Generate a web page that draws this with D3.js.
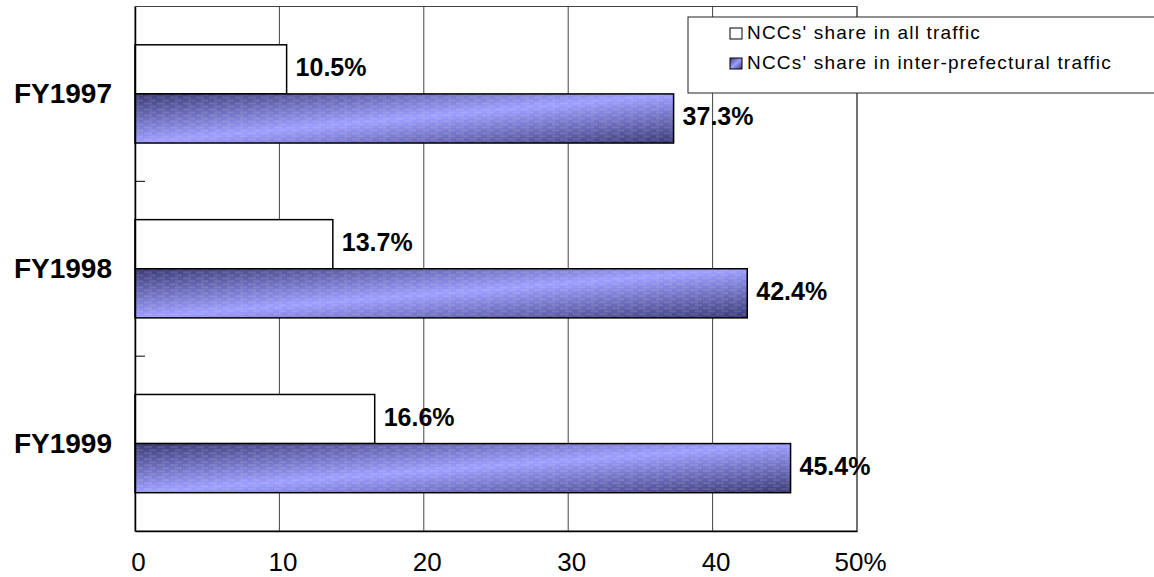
<!DOCTYPE html>
<html>
<head>
<meta charset="utf-8">
<script src="https://cdn.jsdelivr.net/npm/d3@7"></script>
<style>
  body { margin: 0; background: #fff; }
  svg { display: block; font-family: "Liberation Sans", Arial, sans-serif; }
</style>
</head>
<body>
<div id="chart"></div>
<script>
// chart values
const categories = ['FY1997', 'FY1998', 'FY1999'];
const seriesNames = ["NCCs' share in all traffic", "NCCs' share in inter-prefectural traffic"];
const allTraffic = [10.5, 13.7, 16.6];
const interPrefectural = [37.3, 42.4, 45.4];
const xTicks = [0, 10, 20, 30, 40, 50];
const xTickLabels = ['0', '10', '20', '30', '40', '50%'];

const width = 1154, height = 577;
const margin = { top: 6.5, right: 297, bottom: 46, left: 135 };

const svg = d3.select('#chart').append('svg')
  .attr('width', width)
  .attr('height', height);

// gradient + stripe pattern for the blue bars
const defs = svg.append('defs');
const grad = defs.append('linearGradient')
  .attr('id', 'blueGrad')
  .attr('x1', 0).attr('y1', 0).attr('x2', 1).attr('y2', 1);
grad.append('stop').attr('offset', '0%').attr('stop-color', '#3a3a76');
grad.append('stop').attr('offset', '50%').attr('stop-color', '#9e9eff');
grad.append('stop').attr('offset', '100%').attr('stop-color', '#3a3a76');

const pat = defs.append('pattern')
  .attr('id', 'stripes')
  .attr('patternUnits', 'userSpaceOnUse')
  .attr('width', 13).attr('height', 6);
pat.append('line').attr('x1', 1).attr('x2', 9).attr('y1', 1).attr('y2', 1)
  .attr('stroke', '#fff').attr('stroke-opacity', 0.22).attr('stroke-width', 1);
pat.append('line').attr('x1', 6).attr('x2', 14).attr('y1', 4).attr('y2', 4)
  .attr('stroke', '#fff').attr('stroke-opacity', 0.22).attr('stroke-width', 1);

const x = d3.scaleLinear()
  .domain([0, 50])
  .range([margin.left, width - margin.right]);

const y0 = d3.scaleBand()
  .domain(categories)
  .range([margin.top, height - margin.bottom])
  .paddingInner(0).paddingOuter(0);

const y1 = d3.scaleBand()
  .domain(seriesNames)
  .range([0, y0.bandwidth()])
  .paddingInner(0).paddingOuter(0.78);

const plotTop = margin.top, plotBottom = height - margin.bottom;

// plot frame
svg.append('rect')
  .attr('x', x(0)).attr('y', plotTop)
  .attr('width', x(50) - x(0)).attr('height', plotBottom - plotTop)
  .attr('fill', '#fff').attr('stroke', '#444').attr('stroke-width', 1);

// vertical gridlines
svg.append('g')
  .selectAll('line')
  .data(xTicks.slice(1))
  .join('line')
  .attr('x1', d => x(d)).attr('x2', d => x(d))
  .attr('y1', plotTop).attr('y2', plotBottom)
  .attr('stroke', '#444').attr('stroke-width', 1);

const rows = categories.map((c, i) => ({ cat: c, values: [allTraffic[i], interPrefectural[i]] }));

const groups = svg.append('g')
  .selectAll('g')
  .data(rows)
  .join('g')
  .attr('transform', d => `translate(0,${y0(d.cat)})`);

// white bars
groups.append('rect')
  .attr('x', x(0))
  .attr('y', y1(seriesNames[0]))
  .attr('width', d => x(d.values[0]) - x(0))
  .attr('height', y1.bandwidth())
  .attr('fill', '#fff')
  .attr('stroke', '#000').attr('stroke-width', 1.5);

// blue bars
groups.append('rect')
  .attr('x', x(0))
  .attr('y', y1(seriesNames[1]))
  .attr('width', d => x(d.values[1]) - x(0))
  .attr('height', y1.bandwidth())
  .attr('fill', 'url(#blueGrad)');
groups.append('rect')
  .attr('x', x(0))
  .attr('y', y1(seriesNames[1]))
  .attr('width', d => x(d.values[1]) - x(0))
  .attr('height', y1.bandwidth())
  .attr('fill', 'url(#stripes)')
  .attr('stroke', '#000').attr('stroke-width', 1.5);

// value labels
seriesNames.forEach((s, si) => {
  groups.append('text')
    .attr('x', d => x(d.values[si]) + 9)
    .attr('y', y1(s) + y1.bandwidth() / 2 - 2)
    .attr('dominant-baseline', 'central')
    .attr('font-size', 25)
    .attr('font-weight', 'bold')
    .text(d => d.values[si].toFixed(1) + '%');
});

// x axis
const xAxis = d3.axisBottom(x)
  .tickValues(xTicks)
  .tickSize(0)
  .tickPadding(22)
  .tickFormat((d, i) => xTickLabels[i]);
const gx = svg.append('g')
  .attr('transform', `translate(0,${plotBottom})`)
  .call(xAxis);
gx.select('.domain').attr('stroke', '#000').attr('stroke-width', 1.5);
gx.selectAll('text')
  .attr('font-size', 26)
  .attr('fill', '#000')
  .attr('dx', 3)
  .attr('font-family', '"Liberation Sans", Arial, sans-serif');

// y axis with category labels
const yAxis = d3.axisLeft(y0).tickSize(0).tickPadding(23);
const gy = svg.append('g')
  .attr('transform', `translate(${x(0)},0)`)
  .call(yAxis);
gy.select('.domain').attr('stroke', '#000').attr('stroke-width', 1.5);
gy.selectAll('text')
  .attr('font-size', 28)
  .attr('font-weight', 'bold')
  .attr('fill', '#000')
  .attr('dy', '0.33em')
  .attr('font-family', '"Liberation Sans", Arial, sans-serif');

// category boundary tick marks (inside)
svg.append('g')
  .selectAll('line')
  .data(categories.slice(0, -1))
  .join('line')
  .attr('x1', x(0)).attr('x2', x(0) + 10)
  .attr('y1', d => y0(d) + y0.bandwidth())
  .attr('y2', d => y0(d) + y0.bandwidth())
  .attr('stroke', '#000').attr('stroke-width', 1);

// legend
const legend = svg.append('g').attr('transform', 'translate(688,17)');
legend.append('rect')
  .attr('width', 480).attr('height', 76)
  .attr('fill', '#fff').attr('stroke', '#222').attr('stroke-width', 1);
const li = legend.selectAll('g.item')
  .data(seriesNames)
  .join('g')
  .attr('class', 'item')
  .attr('transform', (d, i) => `translate(42,${11 + i * 30})`);
li.append('rect')
  .attr('width', 12).attr('height', 11)
  .attr('fill', (d, i) => i === 0 ? '#fff' : 'url(#blueGrad)')
  .attr('stroke', '#000').attr('stroke-width', 1);
li.append('text')
  .attr('x', 17).attr('y', 11)
  .attr('font-size', 19)
  .attr('letter-spacing', '1.2px')
  .text(d => d);
</script>
</body>
</html>
